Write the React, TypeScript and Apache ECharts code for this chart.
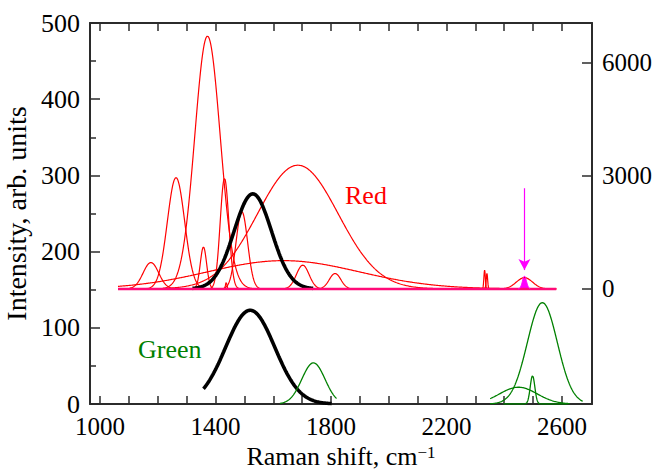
import React, { useEffect, useRef } from "react";
import * as echarts from "echarts";

// Red spectrum, decomposed into Gaussian bands (counts, right axis)
const redCenters = [1176, 1263, 1358, 1372, 1431, 1437, 1491, 1635, 1685, 1702, 1814, 2332, 2340, 2470];
const redHeights = [700, 2950, 1110, 6700, 2930, 180, 2050, 750, 3280, 630, 410, 500, 410, 300];
const redWidths = [27, 30, 11, 44, 15, 2.5, 20, 262, 140, 22, 20, 2.5, 2.5, 28];
const redRange = [1062, 2580];

// Highlighted band and the arrow pointing at it (counts, right axis)
const markedCenter = [2470];
const markedHeight = [340];
const markedWidth = [7];
const arrowX = [2470];
const arrowY = [2670, 500];

// Black envelopes: upper on the right axis (counts), lower on the left axis
const blackCenters = [1529, 1520];
const blackHeights = [2520, 123];
const blackWidths = [65, 85];
const blackRanges = [
  [1320, 1740],
  [1358, 1803],
];

// Green spectrum bands (left axis)
const greenCenters = [1739, 2449, 2498, 2532];
const greenHeights = [54, 22, 37, 133];
const greenWidths = [40, 65, 8, 52];
const greenRanges = [
  [1623, 1820],
  [2351, 2628],
  [2397, 2620],
  [2351, 2673],
];

// Axis ticks and labels
const xTickValues = [1000, 1100, 1200, 1300, 1400, 1500, 1600, 1700, 1800, 1900, 2000, 2100, 2200, 2300, 2400, 2500, 2600];
const xLabelValues = [1000, 1400, 1800, 2200, 2600];
const rightTickValues = [0, 3000, 6000];

const FONT = '"Liberation Serif", "Times New Roman", serif';
const AXIS_COLOR = "#2b2b2b";

function band(center: number, height: number, width: number, from: number, to: number, step = 1) {
  const pts: number[][] = [];
  const n = Math.round((to - from) / step);
  for (let i = 0; i <= n; i++) {
    const x = from + i * step;
    const d = x - center;
    pts.push([x, height * Math.exp(-(d * d) / (2 * width * width))]);
  }
  return pts;
}

function lineSeries(data: number[][], color: string, width: number, yAxisIndex: number, extra: any = {}) {
  return {
    type: "line",
    xAxisIndex: 0,
    yAxisIndex,
    data,
    showSymbol: false,
    symbol: "none",
    silent: true,
    lineStyle: { color, width },
    ...extra,
  };
}

export default function App() {
  const ref = useRef<HTMLDivElement>(null);

  useEffect(() => {
    if (!ref.current) return;
    const chart = echarts.init(ref.current, undefined, { renderer: "svg" });

    const series: any[] = [];

    redCenters.forEach((c, i) => {
      series.push(lineSeries(band(c, redHeights[i], redWidths[i], redRange[0], redRange[1], 1), "#ff0000", 1.2, 1));
    });

    // envelopes (drawn before the baseline so it stays on top)
    blackCenters.forEach((c, i) => {
      series.push(
        lineSeries(band(c, blackHeights[i], blackWidths[i], blackRanges[i][0], blackRanges[i][1], 1), "#000000", 3.6, i === 0 ? 1 : 0)
      );
    });

    // baseline of the red spectrum
    series.push(
      lineSeries(
        [
          [redRange[0], 0],
          [redRange[1], 0],
        ],
        "#ff0a78",
        2.4,
        1
      )
    );

    // filled marked band with its arrow
    series.push(
      lineSeries(
        band(markedCenter[0], markedHeight[0], markedWidth[0], markedCenter[0] - 22, markedCenter[0] + 22, 0.5),
        "#ff00ff",
        1,
        1,
        {
          areaStyle: { color: "#ff00ff", opacity: 1 },
          markLine: {
            silent: true,
            animation: false,
            symbol: ["none", "arrow"],
            symbolSize: [9, 11],
            label: { show: false },
            lineStyle: { color: "#ff00ff", width: 1.2, type: "solid" },
            data: [
              [
                { coord: [arrowX[0], arrowY[0]] },
                { coord: [arrowX[0], arrowY[1]] },
              ],
            ],
          },
        }
      )
    );

    greenCenters.forEach((c, i) => {
      series.push(
        lineSeries(band(c, greenHeights[i], greenWidths[i], greenRanges[i][0], greenRanges[i][1], 1), "#008000", 1.3, 0)
      );
    });

    const labelStyle = { color: "#000", fontFamily: FONT, fontSize: 25 };

    chart.setOption({
      animation: false,
      backgroundColor: "#ffffff",
      grid: { left: 90, right: 63, top: 23, bottom: 67, containLabel: false, outerBoundsMode: "none" },
      xAxis: [
        {
          type: "value",
          position: "bottom",
          min: 965,
          max: 2704,
          axisLine: { show: true, onZero: false, lineStyle: { color: AXIS_COLOR, width: 2 } },
          axisTick: { show: true, inside: true, length: 8, customValues: xTickValues, lineStyle: { color: AXIS_COLOR, width: 1.5 } },
          axisLabel: { ...labelStyle, margin: 10, customValues: xLabelValues, formatter: (v: number) => String(v) },
          splitLine: { show: false },
          name: "{a|Raman shift, cm}{b|−1}",
          nameLocation: "middle",
          nameGap: 39,
          nameTextStyle: {
            color: "#000",
            rich: {
              a: { fontFamily: FONT, fontSize: 26, color: "#000" },
              b: { fontFamily: FONT, fontSize: 17, color: "#000", verticalAlign: "top" },
            },
          },
        },
        {
          type: "value",
          position: "top",
          min: 965,
          max: 2704,
          axisLine: { show: true, onZero: false, lineStyle: { color: AXIS_COLOR, width: 2 } },
          axisTick: { show: true, inside: true, length: 8, customValues: xTickValues, lineStyle: { color: AXIS_COLOR, width: 1.5 } },
          axisLabel: { show: false },
          splitLine: { show: false },
        },
      ],
      yAxis: [
        {
          type: "value",
          position: "left",
          min: 0,
          max: 500,
          interval: 100,
          axisLine: { show: true, onZero: false, lineStyle: { color: AXIS_COLOR, width: 2 } },
          axisTick: { show: true, inside: true, length: 10, lineStyle: { color: AXIS_COLOR, width: 1.5 } },
          minorTick: { show: true, splitNumber: 2, length: 6, lineStyle: { color: AXIS_COLOR, width: 1.5 } },
          axisLabel: { ...labelStyle, fontSize: 26, margin: 10, formatter: (v: number) => String(v) },
          splitLine: { show: false },
          minorSplitLine: { show: false },
          name: "Intensity, arb. units",
          nameLocation: "middle",
          nameGap: 58,
          nameTextStyle: { color: "#000", fontFamily: FONT, fontSize: 28 },
        },
        {
          type: "value",
          position: "right",
          min: -3050,
          max: 7050,
          axisLine: { show: true, onZero: false, lineStyle: { color: AXIS_COLOR, width: 2 } },
          axisTick: { show: true, inside: true, length: 10, customValues: rightTickValues, lineStyle: { color: AXIS_COLOR, width: 1.5 } },
          axisLabel: { ...labelStyle, margin: 10, customValues: rightTickValues, formatter: (v: number) => String(v) },
          splitLine: { show: false },
        },
      ],
      graphic: [
        {
          type: "text",
          left: 345,
          top: 182,
          style: { text: "Red", fill: "#ff0000", font: `26px ${FONT}` },
        },
        {
          type: "text",
          left: 138,
          top: 336,
          style: { text: "Green", fill: "#008000", font: `26px ${FONT}` },
        },
      ],
      series,
    });

    return () => chart.dispose();
  }, []);

  return (
    <div
      ref={ref}
      style={{ position: "fixed", left: 0, top: 0, width: 655, height: 471, background: "#fff" }}
    />
  );
}
